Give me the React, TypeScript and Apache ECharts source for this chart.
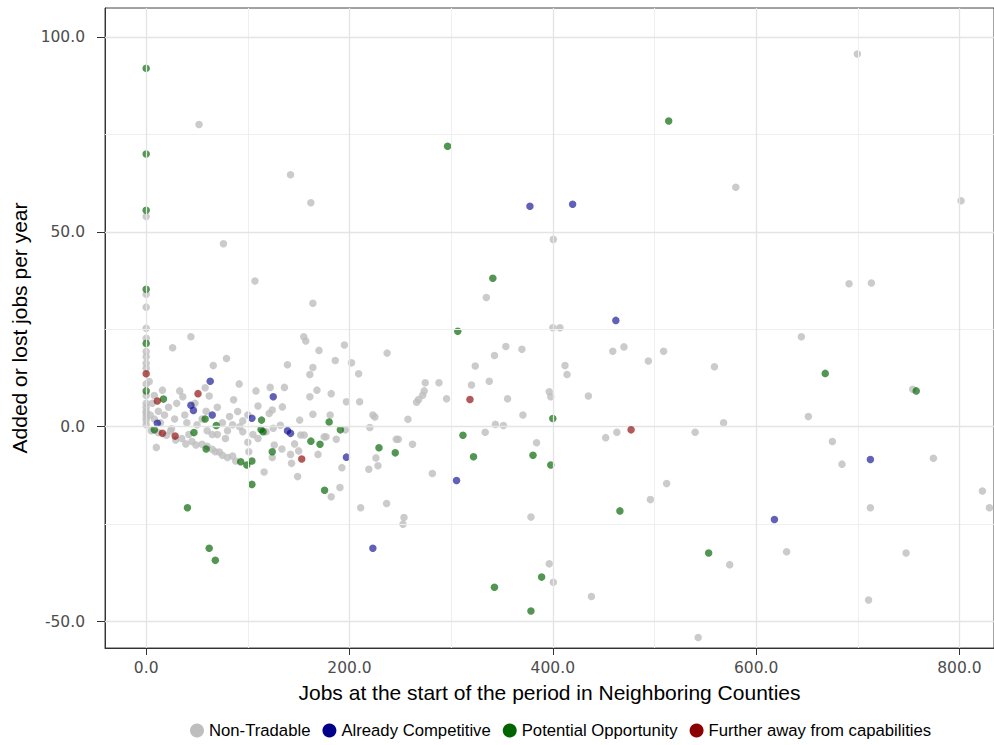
import React, { useEffect, useRef } from "react";
import * as echarts from "echarts";

const seriesNames = ["Non-Tradable", "Already Competitive", "Potential Opportunity", "Further away from capabilities"];
const seriesColors = ["#BEBEBE", "#00008B", "#006400", "#8B0000"];

const xTicks = [0, 200, 400, 600, 800];
const xMinor = [100, 300, 500, 700];
const yTicks = [-50, 0, 50, 100];
const yMinor = [-25, 25, 75];

const nonTradable: number[][] = [
  [0, 54], [0, 34], [0, 30.7], [0, 25.3], [0, 22.7], [0, 19.3], [0, 18], [0, 16.3], [0, 15], [0, 11], [0, 8], [0, 6], [0, 5], [0, 3.4], [0, 1.7], [0, 0.5], [0, 2.5], [0, 4],
  [52, 77.6], [142, 64.7], [162, 57.5], [76, 47], [107, 37.4], [164, 31.7], [44, 23.1], [26, 20.3], [3, 11.6], [155, 23.1], [157, 22], [170, 19.6], [195, 21], [237, 18.9],
  [79, 17.5], [66, 15.7], [139, 15.9], [164, 15.2], [161, 13.4], [186, 17], [202, 16.4], [209, 13.6], [33, 9.2], [36, 7.7], [16, 9.4], [91.5, 11], [108, 9.2], [122, 10.1],
  [136, 10.1], [62, 7.9], [86, 6.9], [168, 9.4], [182, 8.5], [197, 6.4], [210, 6.4], [161, 7.7], [134, 5.1], [110, 5.3], [124, 4.3], [121, 3.4], [59, 4], [164, 3.2],
  [181, 3], [223, 3], [225, 2.5], [151, 1.7], [90, 3.9], [82, 2.6], [100, 3], [132, 0.4], [125, -0.4], [118, -1.3], [95, -1.3], [92, 0], [152, -2.1], [155.5, -2.1],
  [196, -0.8], [220, -0.2], [175, -2.6], [187, -3.2], [246, -3.2], [126, -4.7], [133.5, -5.7], [146, -4.4], [150, -6.2], [142, -7.1], [169, -7.1], [124, -7.9], [101, -6.4],
  [143, -9.4], [149, -12.8], [226, -8], [219, -10.9], [192.5, -10.5], [116, -11.6], [190.6, -15.6], [182, -18], [211, -20.8], [236.5, -19.7], [10, -5.3], [39, -4.4],
  [49, -4.7], [29, -3.4], [68, -6.4], [75, -7.3], [80, -7.9], [88, -8.8], [177, -2.6], [262, -4.5], [248, -3.2],
  [5, -1], [12, -1.5], [20, -2.2], [24, -1], [35, -3], [45, -3.8], [55, -4.5], [60, -5], [65, -5.8], [72, -6.5], [85, -7.5], [18, 3], [22, 5], [28, 2], [40, 1],
  [50, 0.5], [8, 2], [12, 4], [25, -0.5], [42, -2], [60, -1], [70, -2], [78, -3], [85, 0.5], [95, 1.5], [105, -2], [110, -3], [100, -4], [6, 6], [8, 8], [4, 3],
  [14, 1], [30, 6], [38, 3], [55, 2], [65, -2], [75, 1], [80, -1], [70, 5], [48, 6], [58, 10],
  [257.5, 1.9], [274.5, 11.3], [288, 11.3], [272, 8.1], [273.5, 9.2], [268, 7], [266, 6.3], [295.5, 7.2], [320, 10.7], [337.5, 11.7], [355.5, 7.2], [323.7, 15.6],
  [342.6, 18.3], [353.8, 20.6], [369.6, 19.9], [334.6, 33.2], [400.5, 48.1], [400, 25.4], [407, 25.4], [412, 15.7], [414, 13.4], [396.5, 9], [398, 7.7], [435, 7.9],
  [459, 19.4], [470, 20.5], [494, 16.9], [509, 19.4], [370.6, 3], [343.5, 0.6], [351.4, 0.3], [333.5, -1.4], [384, -4.1], [228, -10], [281.5, -12],
  [253.6, -23.3], [252.6, -25], [378.5, -23.2], [452, -2.8], [463, -1.4], [540, -1.4], [512, -14.6], [496, -18.7], [396.5, -35.2], [400.5, -39.9], [438, -43.6],
  [543, -54.1], [699.6, 95.7], [580, 61.5], [801.6, 58], [691.4, 36.7], [713.4, 36.9], [644.5, 23.1], [559, 15.4], [754, 9.6], [651.4, 2.6], [568, 1], [675, -3.8],
  [684.5, -9.6], [774.4, -8.1], [822.6, -16.5], [829.5, -20.8], [712.4, -20.8], [574, -35.4], [630, -32.1], [747.5, -32.4], [710.6, -44.5],
];

const alreadyCompetitive: number[][] = [
  [63, 11.7], [125, 7.7], [44, 5.5], [46.5, 4.2], [65, 3], [104, 2.2], [11, 0.9], [139, -1], [142, -1.7], [197, -7.8], [223, -31.2],
  [377.5, 56.6], [419.5, 57.1], [462, 27.3], [305.3, -13.8], [712.4, -8.4], [618, -23.8],
];

const potentialOpportunity: number[][] = [
  [0, 92], [0, 70], [0, 55.6], [0, 35.3], [0, 21.4], [0, 9.2], [17, 7.1], [58, 2], [113.5, 1.7], [180, 1.2], [69, 0.3], [8, -0.8], [47, -1.5],
  [113, -0.7], [115, -1.3], [191, -0.8], [162, -3.7], [171, -4.5], [59, -5.7], [229, -5.4], [245, -6.7], [124, -6.4], [93, -9], [99, -9.8],
  [104, -8.8], [104, -14.8], [175.5, -16.3], [40.6, -20.8], [62, -31.2], [68, -34.3], [296.5, 72], [514, 78.5], [341, 38.1], [306.5, 24.5],
  [400, 2.1], [311.6, -2.2], [322, -7.7], [380.5, -7.3], [398, -9.8], [466, -21.6], [389, -38.6], [342.6, -41.2], [378.5, -47.3],
  [553.3, -32.4], [668, 13.7], [757.5, 9.2],
];

const furtherAway: number[][] = [
  [0, 13.6], [11, 6.6], [51, 8.5], [16, -1.7], [28.5, -2.4], [153, -8.3], [318.5, 7], [477, -0.8],
];

const seriesData = [nonTradable, alreadyCompetitive, potentialOpportunity, furtherAway];
const seriesOpacity = [0.8, 0.62, 0.68, 0.65];

export default function App() {
  const ref = useRef<HTMLDivElement>(null);
  useEffect(() => {
    if (!ref.current) return;
    const chart = echarts.init(ref.current, undefined, { renderer: "svg" });
    const font = "Liberation Sans";
    const tickFont = "DejaVu Sans";
    const gridLineData = [
      ...xMinor.map((v) => ({ xAxis: v, lineStyle: { color: "#EFEFEF", width: 1, type: "solid" } })),
      ...yMinor.map((v) => ({ yAxis: v, lineStyle: { color: "#EFEFEF", width: 1, type: "solid" } })),
      ...xTicks.map((v) => ({ xAxis: v, lineStyle: { color: "#E4E4E4", width: 1.3, type: "solid" } })),
      ...yTicks.map((v) => ({ yAxis: v, lineStyle: { color: "#E4E4E4", width: 1.3, type: "solid" } })),
    ];
    chart.setOption({
      animation: false,
      backgroundColor: "#FFFFFF",
      textStyle: { fontFamily: font },
      grid: { left: 105, top: 8, right: 0, bottom: 97, show: true, borderColor: "#444", borderWidth: 1, backgroundColor: "transparent" },
      xAxis: {
        type: "value",
        min: -40.5,
        max: 834,
        name: "Jobs at the start of the period in Neighboring Counties",
        nameLocation: "middle",
        nameGap: 34,
        nameTextStyle: { fontSize: 21, color: "#000", fontFamily: font },
        axisLine: { show: true, onZero: false, lineStyle: { color: "#333", width: 1 } },
        axisTick: { show: true, length: 7, customValues: xTicks, lineStyle: { color: "#333", width: 1 } },
        axisLabel: { customValues: xTicks, fontSize: 15.5, fontFamily: tickFont, color: "#4D4D4D", margin: 12, formatter: (v: number) => v.toFixed(1) },
        splitLine: { show: false },
      },
      yAxis: {
        type: "value",
        min: -56.8,
        max: 107.5,
        name: "Added or lost jobs per year",
        nameLocation: "middle",
        nameGap: 70,
        nameTextStyle: { fontSize: 21, color: "#000", fontFamily: font },
        axisLine: { show: true, onZero: false, lineStyle: { color: "#333", width: 1 } },
        axisTick: { show: true, length: 8, customValues: yTicks, lineStyle: { color: "#333", width: 1 } },
        axisLabel: { customValues: yTicks, fontSize: 15.5, fontFamily: tickFont, color: "#4D4D4D", margin: 20, formatter: (v: number) => v.toFixed(1) },
        splitLine: { show: false },
      },
      legend: {
        data: seriesNames,
        left: 185,
        top: 717,
        icon: "circle",
        itemWidth: 14,
        itemHeight: 14,
        itemGap: 12,
        itemStyle: { opacity: 1 },
        textStyle: { fontSize: 16.7, color: "#000", fontFamily: font },
      },
      series: [
        {
          name: "grid",
          type: "scatter",
          data: [],
          silent: true,
          z: 0,
          markLine: {
            silent: true,
            symbol: ["none", "none"],
            label: { show: false },
            animation: false,
            data: gridLineData,
          },
        },
        ...seriesNames.map((name, i) => ({
          name,
          type: "scatter",
          data: seriesData[i],
          symbol: "circle",
          symbolSize: 7.5,
          z: 2 + i,
          itemStyle: { color: seriesColors[i], opacity: seriesOpacity[i] },
        })),
      ],
    });
    return () => chart.dispose();
  }, []);
  return <div ref={ref} style={{ width: 994, height: 745, position: "absolute", left: 0, top: 0 }} />;
}
